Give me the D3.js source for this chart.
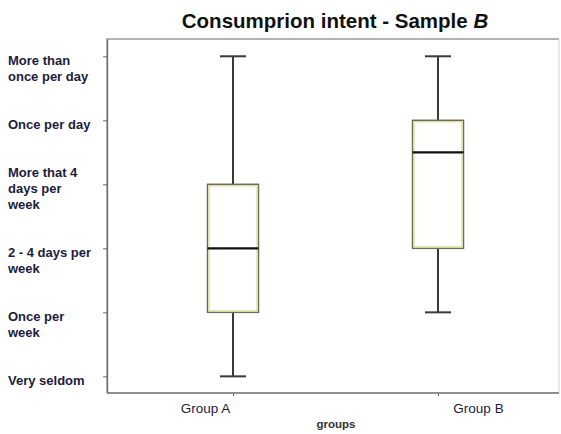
<!DOCTYPE html>
<html>
<head>
<meta charset="utf-8">
<script src="https://cdn.jsdelivr.net/npm/d3@7"></script>
<style>
  body { margin: 0; background: #fff; }
  svg { display: block; font-family: Arial, "Liberation Sans", sans-serif; }
</style>
</head>
<body>
<div id="chart"></div>
<script>

// frequency levels, bottom to top
const levels = [
    ["Very seldom"],
    ["Once per", "week"],
    ["2 - 4 days per", "week"],
    ["More that 4", "days per", "week"],
    ["Once per day"],
    ["More than", "once per day"]
]
const groups = ["Group A", "Group B"]
const mins    = [1, 2]
const q1s     = [2, 3]
const medians = [3, 4.5]
const q3s     = [4, 5]
const maxs    = [6, 6]

const width = 561, height = 434
const margin = { top: 39, right: 2, bottom: 41, left: 107 }

const svg = d3.select('#chart')
    .append('svg')
    .attr('width', width)
    .attr('height', height)

const x = d3.scalePoint()
    .domain(groups)
    .range([233, 438])

const y = d3.scaleLinear()
    .domain([0.74, 6.27])
    .range([height - margin.bottom, margin.top])

// frame
svg.append('path')
    .attr('d', `M${margin.left},${y(0.74)}V${margin.top}H${width - margin.right}`)
    .attr('fill', 'none')
    .attr('stroke', '#9a9a9a')
    .attr('stroke-width', 1.3)
svg.append('line')
    .attr('x1', width - margin.right).attr('x2', width - margin.right)
    .attr('y1', margin.top).attr('y2', y(0.74))
    .attr('stroke', '#cfcfcf')

// y axis
const yAxis = svg.append('g')
    .attr('transform', `translate(${margin.left},0)`)
    .call(d3.axisLeft(y).tickValues(d3.range(1, 7)).tickSize(4).tickSizeOuter(0).tickFormat(''))
yAxis.select('.domain').attr('stroke', '#6a6a6a').attr('stroke-width', 1.3)
yAxis.selectAll('.tick line').attr('stroke', '#6a6a6a')

const ylab = svg.append('g')
    .selectAll('text').data(levels)
    .enter().append('text')
    .attr('x', 8)
    .attr('y', (d, i) => y(i + 1) + 9 - 16 * Math.floor((d.length - 1) / 2))
    .attr('font-size', 13)
    .attr('font-weight', 'bold')
    .attr('fill', '#1c1c3c')
ylab.selectAll('tspan').data(d => d)
    .enter().append('tspan')
    .attr('x', 8)
    .attr('dy', (d, i) => i === 0 ? 0 : 16)
    .text(d => d)

// x axis
const xAxis = svg.append('g')
    .attr('transform', `translate(0,${y(0.74)})`)
    .call(d3.axisBottom(x).tickSize(3).tickSizeOuter(0))
xAxis.select('.domain')
    .attr('d', `M${margin.left},0H${width - margin.right}`)
    .attr('stroke', '#6a6a6a').attr('stroke-width', 1.3)
xAxis.selectAll('.tick line').attr('stroke', '#6a6a6a')
xAxis.selectAll('.tick text')
    .attr('font-size', 13.5)
    .attr('fill', '#1c1c3c')
    .attr('y', 20)
    .attr('dy', 0)
    .attr('dx', (d, i) => i === 0 ? -28 : 40)

svg.append('text')
    .attr('x', 336).attr('y', 428)
    .attr('text-anchor', 'middle')
    .attr('font-size', 11.5)
    .attr('font-weight', 'bold')
    .attr('fill', '#333')
    .text('groups')

// title
const title = svg.append('text')
    .attr('x', 335).attr('y', 28)
    .attr('text-anchor', 'middle')
    .attr('font-size', 20.5)
    .attr('font-weight', 'bold')
    .attr('fill', '#111')
title.append('tspan').text('Consumprion intent - Sample ')
title.append('tspan').attr('font-style', 'italic').text('B')

// boxes
const boxW = 51, capW = 26
const box = svg.append('g')
    .selectAll('g').data(groups)
    .enter().append('g')

box.append('line')
    .attr('x1', d => x(d)).attr('x2', d => x(d))
    .attr('y1', (d, i) => y(maxs[i])).attr('y2', (d, i) => y(q3s[i]))
    .attr('stroke', '#3a3a3a').attr('stroke-width', 2)
box.append('line')
    .attr('x1', d => x(d)).attr('x2', d => x(d))
    .attr('y1', (d, i) => y(q1s[i])).attr('y2', (d, i) => y(mins[i]))
    .attr('stroke', '#3a3a3a').attr('stroke-width', 2)
box.append('line')
    .attr('x1', d => x(d) - capW / 2).attr('x2', d => x(d) + capW / 2)
    .attr('y1', (d, i) => y(maxs[i])).attr('y2', (d, i) => y(maxs[i]))
    .attr('stroke', '#3a3a3a').attr('stroke-width', 2)
box.append('line')
    .attr('x1', d => x(d) - capW / 2).attr('x2', d => x(d) + capW / 2)
    .attr('y1', (d, i) => y(mins[i])).attr('y2', (d, i) => y(mins[i]))
    .attr('stroke', '#3a3a3a').attr('stroke-width', 2)

box.append('rect')
    .attr('x', d => x(d) - boxW / 2)
    .attr('y', (d, i) => y(q3s[i]))
    .attr('width', boxW)
    .attr('height', (d, i) => y(q1s[i]) - y(q3s[i]))
    .attr('fill', '#fff')
    .attr('stroke', '#6c6c5c')
    .attr('stroke-width', 1.5)
box.append('rect')
    .attr('x', d => x(d) - boxW / 2 + 1.5)
    .attr('y', (d, i) => y(q3s[i]) + 1.5)
    .attr('width', boxW - 3)
    .attr('height', (d, i) => y(q1s[i]) - y(q3s[i]) - 3)
    .attr('fill', 'none')
    .attr('stroke', '#e4e0a4')
    .attr('stroke-width', 1.5)

box.append('line')
    .attr('x1', d => x(d) - boxW / 2).attr('x2', d => x(d) + boxW / 2)
    .attr('y1', (d, i) => y(medians[i])).attr('y2', (d, i) => y(medians[i]))
    .attr('stroke', '#111').attr('stroke-width', 2.2)

</script>
</body>
</html>
